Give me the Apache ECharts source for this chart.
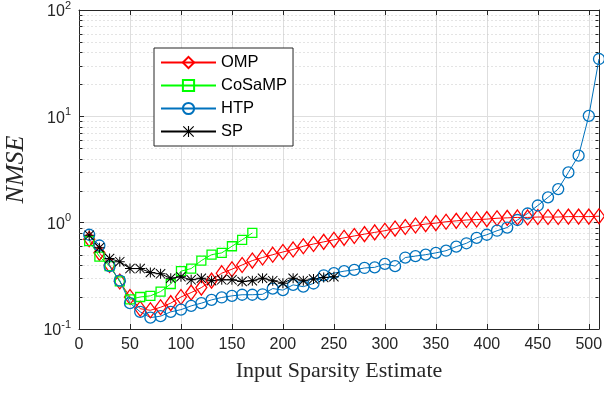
<!DOCTYPE html>
<html>
<head>
<meta charset="utf-8">
<script src="https://cdn.jsdelivr.net/npm/echarts@6/dist/echarts.min.js"></script>
<style>
  html, body { margin: 0; padding: 0; background: #fff; }
  #chart { width: 604px; height: 394px; }
</style>
</head>
<body>
<div id="chart"></div>
<script>
// Input sparsity estimate (x) and NMSE of each recovery algorithm
const sparsity = [10, 20, 30, 40, 50, 60, 70, 80, 90, 100, 110, 120, 130, 140, 150, 160, 170, 180, 190, 200,
  210, 220, 230, 240, 250, 260, 270, 280, 290, 300, 310, 320, 330, 340, 350, 360, 370, 380, 390, 400,
  410, 420, 430, 440, 450, 460, 470, 480, 490, 500, 510];

const ompNmse = [0.70, 0.52, 0.40, 0.28, 0.20, 0.155, 0.15, 0.16, 0.175, 0.20, 0.22, 0.245, 0.285, 0.335, 0.365, 0.40, 0.44, 0.47, 0.50, 0.53,
  0.56, 0.60, 0.63, 0.66, 0.69, 0.72, 0.75, 0.78, 0.81, 0.84, 0.88, 0.91, 0.94, 0.97, 0.99, 1.02, 1.04, 1.06, 1.07, 1.08,
  1.10, 1.11, 1.12, 1.12, 1.13, 1.13, 1.13, 1.14, 1.14, 1.14, 1.15];

const cosampNmse = [0.67, 0.48, 0.39, 0.28, 0.19, 0.20, 0.205, 0.225, 0.265, 0.35, 0.37, 0.44, 0.50, 0.52, 0.60, 0.69, 0.80];

const htpNmse = [0.77, 0.61, 0.39, 0.285, 0.175, 0.145, 0.128, 0.132, 0.145, 0.152, 0.165, 0.175, 0.188, 0.198, 0.205, 0.21, 0.21, 0.212, 0.24, 0.232,
  0.26, 0.25, 0.268, 0.32, 0.335, 0.35, 0.36, 0.375, 0.38, 0.41, 0.39, 0.47, 0.485, 0.50, 0.52, 0.545, 0.595, 0.64, 0.72, 0.77,
  0.84, 0.90, 1.06, 1.22, 1.45, 1.73, 2.07, 2.97, 4.27, 10.1, 34.6];

const spNmse = [0.76, 0.58, 0.46, 0.43, 0.37, 0.37, 0.34, 0.33, 0.30, 0.31, 0.29, 0.30, 0.285, 0.29, 0.29, 0.28, 0.285, 0.30, 0.285, 0.27,
  0.30, 0.285, 0.295, 0.305, 0.31];

const seriesNames = ['OMP', 'CoSaMP', 'HTP', 'SP'];

// Axis ranges and minor (log) tick positions
const xRange = [0, 510];
const xTickStep = 50;
const yRange = [0.1, 100];
const yMinorTicks = [0.2, 0.3, 0.4, 0.5, 0.6, 0.7, 0.8, 0.9, 2, 3, 4, 5, 6, 7, 8, 9, 20, 30, 40, 50, 60, 70, 80, 90];

const AXIS_COLOR = '#262626';
const GRID_COLOR = '#dedede';
const MINOR_GRID_COLOR = '#c8c8c8';
const SANS = 'Liberation Sans, Arial, Helvetica, sans-serif';
const SERIF = 'Liberation Serif, Times New Roman, serif';

// Eight-armed asterisk marker made of filled bars
const ASTERISK = 'path://M9,0L11,0L11,20L9,20Z M0,9L20,9L20,11L0,11Z ' +
  'M0,1.4L1.4,0L20,18.6L18.6,20Z M18.6,0L20,1.4L1.4,20L0,18.6Z';

function pairs(values) {
  return values.map((v, i) => [sparsity[i], v]);
}

function lineSeries(name, values, color, symbol, size, filled) {
  return {
    name: name,
    type: 'line',
    data: pairs(values),
    symbol: symbol,
    symbolSize: size,
    showSymbol: true,
    clip: false,
    z: 3,
    lineStyle: { color: color, width: 1 },
    itemStyle: filled
      ? { color: color, borderWidth: 0 }
      : { color: 'rgba(255,255,255,0)', borderColor: color, borderWidth: 1.3 },
    emphasis: { disabled: true }
  };
}

// Dotted minor grid lines plus inward minor ticks on both y axes
const minorGridSeries = {
  type: 'custom',
  silent: true,
  z: 1,
  xAxisIndex: 0,
  yAxisIndex: 0,
  encode: { x: 0, y: 1 },
  data: yMinorTicks.map(v => [xRange[0], v]),
  renderItem: function (params, api) {
    const v = api.value(1);
    const p0 = api.coord([xRange[0], v]);
    const p1 = api.coord([xRange[1], v]);
    const y = Math.round(p0[1]) + 0.5;
    const xl = Math.round(p0[0]) + 0.5;
    const xr = Math.round(p1[0]) - 0.5;
    return {
      type: 'group',
      children: [
        { type: 'line', shape: { x1: xl, y1: y, x2: xr, y2: y },
          style: { stroke: MINOR_GRID_COLOR, lineWidth: 1, lineDash: [1, 3] } },
        { type: 'line', shape: { x1: xl, y1: y, x2: xl + 3, y2: y },
          style: { stroke: AXIS_COLOR, lineWidth: 1 } },
        { type: 'line', shape: { x1: xr - 3, y1: y, x2: xr, y2: y },
          style: { stroke: AXIS_COLOR, lineWidth: 1 } }
      ]
    };
  }
};

const chart = echarts.init(document.getElementById('chart'), null, { renderer: 'canvas' });

chart.setOption({
  animation: false,
  backgroundColor: '#fff',
  grid: { left: 79, right: 5, top: 10, bottom: 65, containLabel: false, outerBoundsMode: 'none' },
  legend: {
    data: seriesNames,
    orient: 'vertical',
    left: 154,
    top: 48,
    itemWidth: 55,
    itemHeight: 14,
    itemGap: 6,
    padding: [6, 6, 6, 6],
    borderColor: AXIS_COLOR,
    borderWidth: 1,
    borderRadius: 0,
    backgroundColor: '#fff',
    selectedMode: false,
    textStyle: { fontFamily: SANS, fontSize: 16.5, color: '#000' }
  },
  xAxis: [
    {
      type: 'value',
      min: xRange[0],
      max: xRange[1],
      interval: xTickStep,
      name: 'Input Sparsity Estimate',
      nameLocation: 'middle',
      nameGap: 31,
      nameTextStyle: { fontFamily: SERIF, fontSize: 22, color: AXIS_COLOR },
      axisLine: { show: true, onZero: false, lineStyle: { color: AXIS_COLOR, width: 1 } },
      axisTick: { show: true, inside: true, length: 5, lineStyle: { color: AXIS_COLOR } },
      axisLabel: { show: true, showMaxLabel: false, margin: 8, fontFamily: SANS, fontSize: 16, color: AXIS_COLOR },
      splitLine: { show: true, lineStyle: { color: GRID_COLOR, width: 1 } }
    },
    {
      type: 'value',
      position: 'top',
      min: xRange[0],
      max: xRange[1],
      interval: xTickStep,
      axisLine: { show: true, onZero: false, lineStyle: { color: AXIS_COLOR, width: 1 } },
      axisTick: { show: true, inside: true, length: 5, lineStyle: { color: AXIS_COLOR } },
      axisLabel: { show: false },
      splitLine: { show: false }
    }
  ],
  yAxis: [
    {
      type: 'log',
      logBase: 10,
      min: yRange[0],
      max: yRange[1],
      name: 'NMSE',
      nameLocation: 'middle',
      nameGap: 50,
      nameTextStyle: { fontFamily: SERIF, fontStyle: 'italic', fontSize: 26, color: AXIS_COLOR },
      axisLine: { show: true, onZero: false, lineStyle: { color: AXIS_COLOR, width: 1 } },
      axisTick: { show: true, inside: true, length: 5, lineStyle: { color: AXIS_COLOR } },
      axisLabel: {
        show: true,
        margin: 8,
        color: AXIS_COLOR,
        formatter: function (v) {
          const e = Math.round(Math.log10(v));
          return '{b|10}{e|' + e + '}';
        },
        rich: {
          b: { fontFamily: SANS, fontSize: 16, color: AXIS_COLOR, verticalAlign: 'bottom' },
          e: { fontFamily: SANS, fontSize: 11, color: AXIS_COLOR, verticalAlign: 'bottom', padding: [0, 0, 9, 0] }
        }
      },
      splitLine: { show: true, lineStyle: { color: GRID_COLOR, width: 1 } }
    },
    {
      type: 'log',
      logBase: 10,
      position: 'right',
      min: yRange[0],
      max: yRange[1],
      axisLine: { show: true, onZero: false, lineStyle: { color: AXIS_COLOR, width: 1 } },
      axisTick: { show: true, inside: true, length: 5, lineStyle: { color: AXIS_COLOR } },
      axisLabel: { show: false },
      splitLine: { show: false }
    }
  ],
  series: [
    minorGridSeries,
    lineSeries('OMP', ompNmse, '#ff0000', 'diamond', [11, 15], false),
    lineSeries('CoSaMP', cosampNmse, '#00ff00', 'rect', 9, false),
    lineSeries('HTP', htpNmse, '#0072bd', 'circle', 11, false),
    lineSeries('SP', spNmse, '#000000', ASTERISK, 10, true)
  ]
});
</script>
</body>
</html>
